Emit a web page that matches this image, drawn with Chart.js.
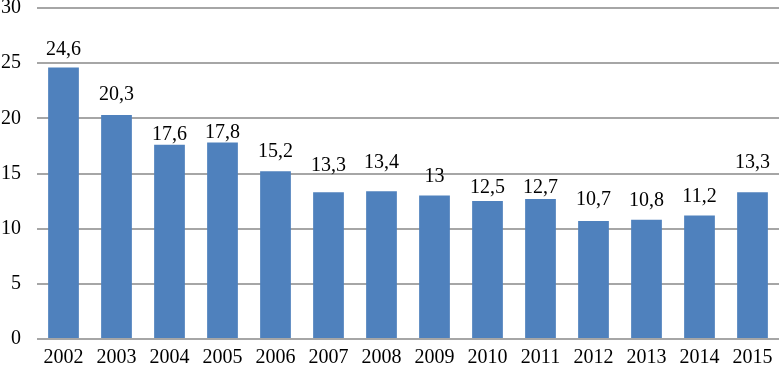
<!DOCTYPE html>
<html>
<head>
<meta charset="utf-8">
<script src="https://cdn.jsdelivr.net/npm/chart.js@4/dist/chart.umd.min.js"></script>
<style>
  html, body { margin: 0; padding: 0; background: #fff; }
  #wrap { width: 779px; height: 371px; }
</style>
</head>
<body>
<div id="wrap"><canvas id="chart"></canvas></div>
<script>
// data
const years = ['2002', '2003', '2004', '2005', '2006', '2007', '2008', '2009', '2010', '2011', '2012', '2013', '2014', '2015'];
const values = [24.6, 20.3, 17.6, 17.8, 15.2, 13.3, 13.4, 13, 12.5, 12.7, 10.7, 10.8, 11.2, 13.3];
const yTicks = [0, 5, 10, 15, 20, 25, 30];

const FONT = '"Liberation Serif", "Times New Roman", serif';
const FONT_SIZE = 20;

// value labels above each bar, decimal comma
// the labels in the original were nudged by hand, so each has its own lift (px above bar top)
const barLabels = {
    id: 'barLabels',
    afterDatasetsDraw(chart, args, opts) {
        const ctx = chart.ctx;
        const meta = chart.getDatasetMeta(0);
        ctx.save();
        ctx.font = FONT_SIZE + 'px ' + FONT;
        ctx.fillStyle = '#000';
        ctx.textAlign = 'center';
        ctx.textBaseline = 'alphabetic';
        meta.data.forEach((bar, i) => {
            const txt = String(values[i]).replace('.', ',');
            ctx.fillText(txt, bar.x, bar.y - opts.lift[i]);
        });
        ctx.restore();
    }
};

new Chart(document.getElementById('chart'), {
    type: 'bar',
    data: {
        labels: years,
        datasets: [{
            data: values,
            backgroundColor: '#4f81bd',
            categoryPercentage: 1,
            barPercentage: 0.58
        }]
    },
    options: {
        responsive: true,
        maintainAspectRatio: false,
        animation: false,
        layout: { padding: { top: 8, right: 0, left: 0, bottom: 0 } },
        plugins: {
            legend: { display: false },
            tooltip: { enabled: false },
            barLabels: { lift: [13, 15, 5, 5, 14, 21, 23, 14, 8, 6, 16, 14, 13, 24] }
        },
        scales: {
            x: {
                grid: { display: false, drawTicks: false },
                border: { display: false },
                ticks: { color: '#000', font: { family: FONT, size: FONT_SIZE }, padding: 7, maxRotation: 0 },
                afterFit(scale) {
                    scale.height = 32;
                    scale.paddingLeft = 0;
                    scale.paddingRight = 0;
                }
            },
            y: {
                min: 0,
                max: 30,
                afterBuildTicks(scale) { scale.ticks = yTicks.map(v => ({ value: v })); },
                grid: { color: '#a6a6a6', lineWidth: 2, drawTicks: false },
                border: { display: false },
                ticks: { color: '#000', font: { family: FONT, size: FONT_SIZE }, padding: 16 },
                afterFit(scale) {
                    scale.width = 37;
                    scale.paddingTop = 0;
                    scale.paddingBottom = 0;
                }
            }
        }
    },
    plugins: [barLabels]
});
</script>
</body>
</html>
